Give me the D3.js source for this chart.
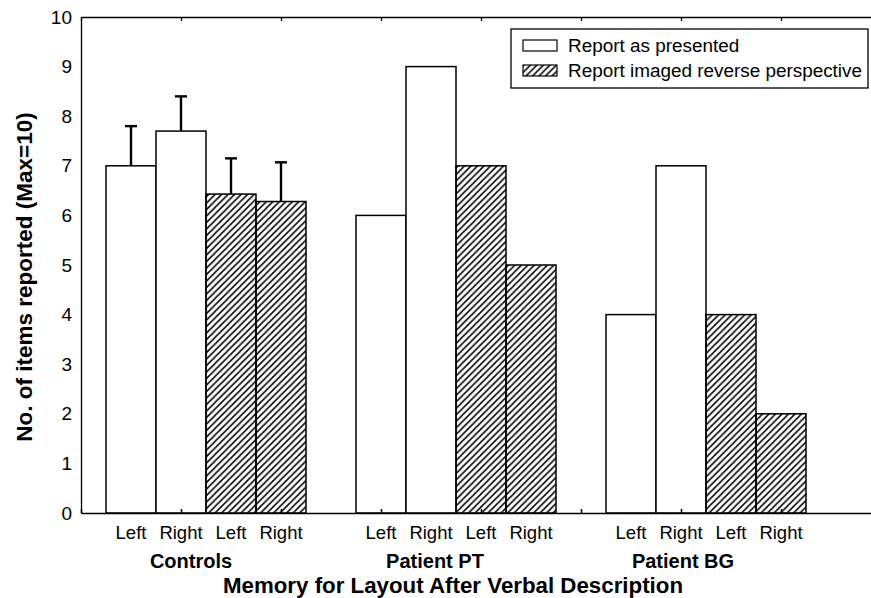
<!DOCTYPE html>
<html>
<head>
<meta charset="utf-8">
<script src="https://cdn.jsdelivr.net/npm/d3@7"></script>
<style>
  body { margin: 0; background: #fff; }
  svg { display: block; }
</style>
</head>
<body>
<svg id="chart" width="871" height="598"></svg>
<script>
// data
var groups = ["Controls", "Patient PT", "Patient BG"];
var sides = ["Left", "Right", "Left", "Right"];
var barKind = ["plain", "plain", "hatch", "hatch"];
var values = [
    [7.0, 7.7, 6.43, 6.28],
    [6, 9, 7, 5],
    [4, 7, 4, 2]
];
var errTop = [
    [7.8, 8.4, 7.15, 7.07],
    null,
    null
];
var yTicks = [0, 1, 2, 3, 4, 5, 6, 7, 8, 9, 10];
var xTicks = [0, 2, 4, 6, 8, 10, 12, 14];
var legendLabels = ["Report as presented", "Report imaged reverse perspective"];

var font = "Liberation Sans, Arial, sans-serif";
var svg = d3.select("#chart");

var x = d3.scaleLinear().domain([0, 16]).range([81, 881]);
var y = d3.scaleLinear().domain([0, 10]).range([513, 17]);

var defs = svg.append("defs");
defs.append("pattern")
    .attr("id", "hatch")
    .attr("patternUnits", "userSpaceOnUse")
    .attr("width", 6.5)
    .attr("height", 6.5)
    .append("path")
    .attr("d", "M0,6.5 L6.5,0 M-1.6,1.6 L1.6,-1.6 M4.9,8.1 L8.1,4.9")
    .attr("stroke", "#000")
    .attr("stroke-width", 1.5);

// flatten into bars
var bars = [];
values.forEach(function(row, g) {
    row.forEach(function(v, i) {
        bars.push({
            g: g,
            i: i,
            slot: g * 5 + 0.5 + i,
            value: v,
            kind: barKind[i],
            err: errTop[g] ? errTop[g][i] : null
        });
    });
});

// error bars (behind bars)
var eb = svg.append("g").selectAll("g")
    .data(bars.filter(function(d) { return d.err !== null; }))
    .enter().append("g");
eb.append("line")
    .attr("x1", function(d) { return x(d.slot + 0.5); })
    .attr("x2", function(d) { return x(d.slot + 0.5); })
    .attr("y1", function(d) { return y(d.value); })
    .attr("y2", function(d) { return y(d.err); })
    .attr("stroke", "#000")
    .attr("stroke-width", 2.4);
eb.append("line")
    .attr("x1", function(d) { return x(d.slot + 0.5) - 6; })
    .attr("x2", function(d) { return x(d.slot + 0.5) + 6; })
    .attr("y1", function(d) { return y(d.err); })
    .attr("y2", function(d) { return y(d.err); })
    .attr("stroke", "#000")
    .attr("stroke-width", 2.4);

svg.append("g").selectAll("rect")
    .data(bars)
    .enter().append("rect")
    .attr("x", function(d) { return x(d.slot); })
    .attr("width", function(d) { return x(d.slot + 1) - x(d.slot); })
    .attr("y", function(d) { return y(d.value); })
    .attr("height", function(d) { return y(0) - y(d.value); })
    .attr("fill", function(d) { return d.kind === "hatch" ? "url(#hatch)" : "#fff"; })
    .attr("stroke", "#000")
    .attr("stroke-width", 1.5);

// frame: top, bottom, left
svg.append("g")
    .attr("transform", "translate(0," + y(10) + ")")
    .call(d3.axisTop(x).tickValues(xTicks).tickSizeInner(-4).tickSizeOuter(0).tickFormat(""))
    .call(function(g) { g.selectAll("path, line").attr("stroke-width", 1.3); });

svg.append("g")
    .attr("transform", "translate(0," + y(0) + ")")
    .call(d3.axisBottom(x).tickValues(xTicks).tickSizeInner(-4).tickSizeOuter(0).tickFormat(""))
    .call(function(g) { g.selectAll("path, line").attr("stroke-width", 1.5); });

svg.append("g")
    .attr("transform", "translate(" + x(0) + ",0)")
    .call(d3.axisLeft(y).tickValues(yTicks).tickSize(0).tickPadding(9).tickSizeOuter(0))
    .call(function(g) {
        g.select(".domain").attr("stroke-width", 1.3);
        g.selectAll("text")
            .style("font-family", font)
            .style("font-size", "19px")
            .attr("fill", "#000");
    });

// side labels
svg.append("g").selectAll("text")
    .data(bars)
    .enter().append("text")
    .attr("x", function(d) { return x(d.slot + 0.5); })
    .attr("y", 539)
    .attr("text-anchor", "middle")
    .style("font-family", font)
    .style("font-size", "18.5px")
    .text(function(d) { return sides[d.i]; });

// group labels
var groupOffset = [-0.3, -0.42, -0.46];
svg.append("g").selectAll("text")
    .data(groups)
    .enter().append("text")
    .attr("x", function(d, g) { return x(g * 5 + 2.5 + groupOffset[g]); })
    .attr("y", 568)
    .attr("text-anchor", "middle")
    .style("font-family", font)
    .style("font-size", "20px")
    .style("font-weight", "bold")
    .text(function(d) { return d; });

svg.append("text")
    .attr("x", 453)
    .attr("y", 593)
    .attr("text-anchor", "middle")
    .style("font-family", font)
    .style("font-size", "22.3px")
    .style("font-weight", "bold")
    .text("Memory for Layout After Verbal Description");

svg.append("text")
    .attr("transform", "translate(32,277) rotate(-90)")
    .attr("text-anchor", "middle")
    .style("font-family", font)
    .style("font-size", "22.5px")
    .style("font-weight", "bold")
    .text("No. of items reported (Max=10)");

// legend
var legend = svg.append("g").attr("transform", "translate(511,29)");
legend.append("rect")
    .attr("width", 357).attr("height", 59)
    .attr("fill", "#fff").attr("stroke", "#000").attr("stroke-width", 1.3);
var items = legend.selectAll(".legend-item")
    .data(legendLabels)
    .enter().append("g")
    .attr("class", "legend-item")
    .attr("transform", function(d, i) { return "translate(0," + (11 + 25 * i) + ")"; });
items.append("rect")
    .attr("x", 12).attr("width", 34).attr("height", 11)
    .attr("fill", function(d, i) { return i ? "url(#hatch)" : "#fff"; })
    .attr("stroke", "#000").attr("stroke-width", 1.2);
items.append("text")
    .attr("x", 57).attr("y", 12)
    .style("font-family", font)
    .style("font-size", "18.9px")
    .text(function(d) { return d; });
</script>
</body>
</html>
